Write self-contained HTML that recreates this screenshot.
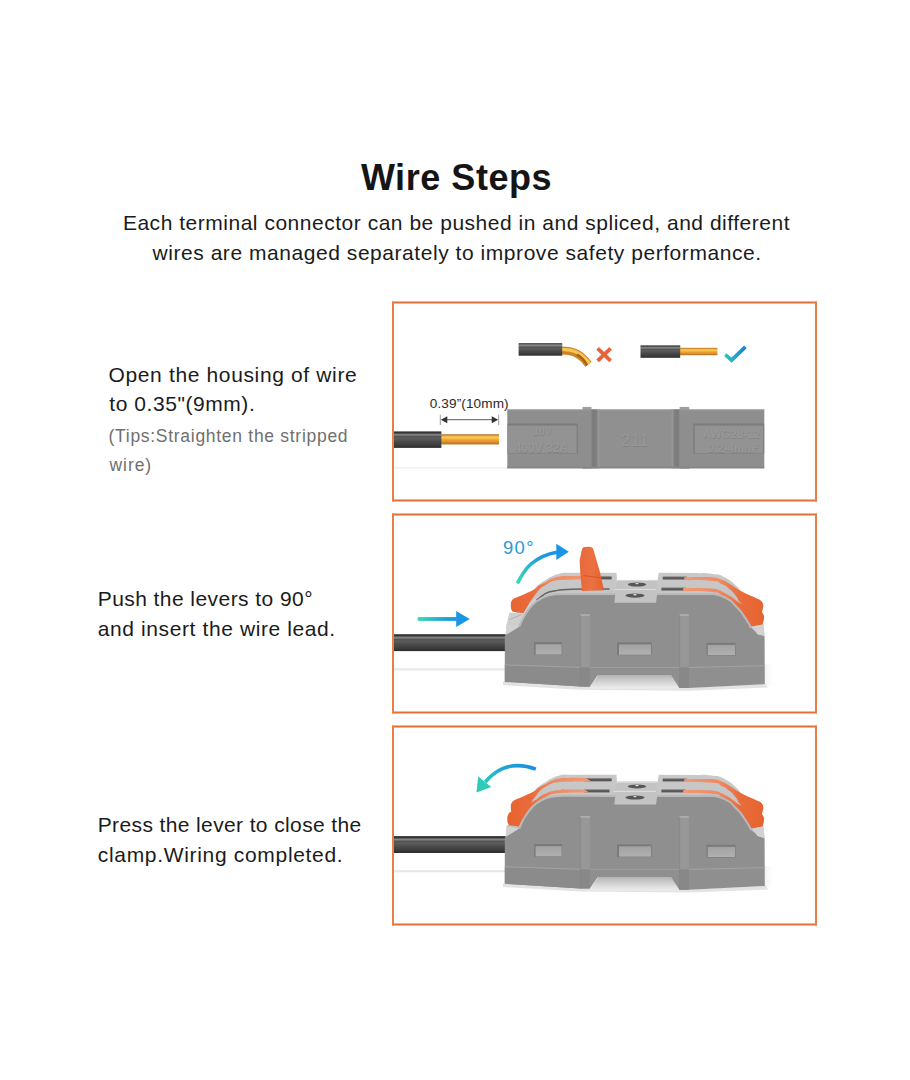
<!DOCTYPE html>
<html lang="en">
<head>
<meta charset="utf-8">
<title>Wire Steps</title>
<style>
*{margin:0;padding:0;box-sizing:border-box}
html,body{width:910px;height:1080px;background:#fff;overflow:hidden}
body{position:relative;font-family:"Liberation Sans",sans-serif;color:#1a1a1a}
.t{position:absolute;white-space:nowrap;line-height:1;font-weight:400}
.ttl{font-weight:700;color:#151515}
.sub,.step{color:#1b1b1b}
.tip{color:#6f6f6f}
.dim{color:#2a2a2a}
.deg{color:#2a9bd6}
.box{position:static}
svg.art{position:absolute;left:0;top:0;width:910px;height:1080px}
svg.art text{font-family:"Liberation Sans",sans-serif}
</style>
</head>
<body>
<svg class="art" viewBox="0 0 910 1080" width="910" height="1080">
<defs>
  <linearGradient id="wireg" x1="0" y1="0" x2="0" y2="1">
    <stop offset="0" stop-color="#303030"/>
    <stop offset="0.1" stop-color="#353535"/>
    <stop offset="0.16" stop-color="#727272"/>
    <stop offset="0.22" stop-color="#8c8c8c"/>
    <stop offset="0.29" stop-color="#525252"/>
    <stop offset="0.42" stop-color="#5c5c5c"/>
    <stop offset="0.62" stop-color="#4a4a4a"/>
    <stop offset="0.82" stop-color="#3d3d3d"/>
    <stop offset="1" stop-color="#2c2c2c"/>
  </linearGradient>
  <linearGradient id="copg" x1="0" y1="0" x2="0" y2="1">
    <stop offset="0" stop-color="#b8722f"/>
    <stop offset="0.12" stop-color="#dc9236"/>
    <stop offset="0.3" stop-color="#fbd45c"/>
    <stop offset="0.45" stop-color="#f4b23a"/>
    <stop offset="0.75" stop-color="#e0902e"/>
    <stop offset="0.9" stop-color="#c47a28"/>
    <stop offset="1" stop-color="#a8651f"/>
  </linearGradient>
  <linearGradient id="wing" x1="0" y1="0" x2="0" y2="1">
    <stop offset="0" stop-color="#a2a2a2"/>
    <stop offset="1" stop-color="#b0b0b0"/>
  </linearGradient>
  <linearGradient id="grvL" x1="0" y1="0" x2="1" y2="0">
    <stop offset="0" stop-color="#8c8c8c"/>
    <stop offset="0.25" stop-color="#7a7a7a"/>
    <stop offset="0.7" stop-color="#828282"/>
    <stop offset="0.9" stop-color="#9e9e9e"/>
    <stop offset="1" stop-color="#929292"/>
  </linearGradient>
  <linearGradient id="grvR" x1="1" y1="0" x2="0" y2="0">
    <stop offset="0" stop-color="#8c8c8c"/>
    <stop offset="0.25" stop-color="#7a7a7a"/>
    <stop offset="0.7" stop-color="#828282"/>
    <stop offset="0.9" stop-color="#9e9e9e"/>
    <stop offset="1" stop-color="#929292"/>
  </linearGradient>
  <filter id="emb" x="-5%" y="-20%" width="110%" height="150%">
    <feDropShadow dx="0.4" dy="0.8" stdDeviation="0.35" flood-color="#707070" flood-opacity="0.6"/>
  </filter>
  <linearGradient id="gline" x1="0" y1="0" x2="0" y2="1">
    <stop offset="0" stop-color="#dcdcdc" stop-opacity="0"/>
    <stop offset="0.4" stop-color="#e8e8e8"/>
    <stop offset="0.6" stop-color="#e8e8e8"/>
    <stop offset="1" stop-color="#dcdcdc" stop-opacity="0"/>
  </linearGradient>
  <linearGradient id="sideg" x1="0" y1="0" x2="1" y2="0">
    <stop offset="0" stop-color="#dedede"/>
    <stop offset="1" stop-color="#ffffff" stop-opacity="0"/>
  </linearGradient>
  <linearGradient id="slotg" x1="0" y1="0" x2="0" y2="1">
    <stop offset="0" stop-color="#8a8786"/>
    <stop offset="0.45" stop-color="#5c5857"/>
    <stop offset="1" stop-color="#55514f"/>
  </linearGradient>
  <linearGradient id="notchg" x1="0" y1="0" x2="0" y2="1">
    <stop offset="0" stop-color="#b6b6b6"/>
    <stop offset="0.6" stop-color="#d9d9d9"/>
    <stop offset="1" stop-color="#ededed"/>
  </linearGradient>
  <linearGradient id="org" gradientUnits="userSpaceOnUse" x1="507" y1="0" x2="590" y2="0">
    <stop offset="0" stop-color="#e5632f"/>
    <stop offset="0.3" stop-color="#ea6c3c"/>
    <stop offset="0.55" stop-color="#ef8a62"/>
    <stop offset="1" stop-color="#f09a78"/>
  </linearGradient>
  <linearGradient id="orgR" gradientUnits="userSpaceOnUse" x1="764" y1="0" x2="683" y2="0">
    <stop offset="0" stop-color="#e5632f"/>
    <stop offset="0.3" stop-color="#ea6c3c"/>
    <stop offset="0.55" stop-color="#ef8a62"/>
    <stop offset="1" stop-color="#f09a78"/>
  </linearGradient>
  <linearGradient id="topg" x1="0" y1="0" x2="0" y2="1">
    <stop offset="0" stop-color="#c9c9c9"/>
    <stop offset="1" stop-color="#bdbdbd"/>
  </linearGradient>
  <linearGradient id="shadg" x1="0" y1="0" x2="0" y2="1">
    <stop offset="0" stop-color="#d9d9d9"/>
    <stop offset="1" stop-color="#ffffff" stop-opacity="0"/>
  </linearGradient>
  <linearGradient id="blueg2" gradientUnits="userSpaceOnUse" x1="517" y1="584" x2="560" y2="552">
    <stop offset="0" stop-color="#3cdcb0"/>
    <stop offset="0.6" stop-color="#1ea0dc"/>
    <stop offset="1" stop-color="#1a8ee0"/>
  </linearGradient>
  <linearGradient id="blueg3" gradientUnits="userSpaceOnUse" x1="480" y1="786" x2="536" y2="768">
    <stop offset="0" stop-color="#2fcdb6"/>
    <stop offset="0.5" stop-color="#1ea4d8"/>
    <stop offset="1" stop-color="#1a8ee0"/>
  </linearGradient>
  <linearGradient id="chk" gradientUnits="userSpaceOnUse" x1="725" y1="0" x2="746" y2="0">
    <stop offset="0" stop-color="#2cc6bf"/>
    <stop offset="0.45" stop-color="#22a8cf"/>
    <stop offset="1" stop-color="#1a7ddc"/>
  </linearGradient>
  <linearGradient id="org2" x1="0" y1="0" x2="1" y2="0">
    <stop offset="0" stop-color="#e8693b"/>
    <stop offset="0.5" stop-color="#ec7142"/>
    <stop offset="1" stop-color="#e2622f"/>
  </linearGradient>
  <linearGradient id="blueg1" gradientUnits="userSpaceOnUse" x1="417" y1="0" x2="469" y2="0">
    <stop offset="0" stop-color="#3cdcb0"/>
    <stop offset="0.55" stop-color="#1ea0dc"/>
    <stop offset="1" stop-color="#1a8ee0"/>
  </linearGradient>
</defs>
<g id="frames" fill="none">
  <path d="M392 302.5H817M392 500.5H817M392 514.5H817M392 712.5H817M392 726.5H817M392 924.5H817" stroke="#e07038" stroke-width="1.9"/>
  <path d="M393 301.6V501.4M816 301.6V501.4M393 513.6V713.4M816 513.6V713.4M393 725.6V925.4M816 725.6V925.4" stroke="#ea7e46" stroke-width="2"/>
</g>
<g id="step1">
  <!-- faint ground line -->
  <rect x="394" y="467" width="113.5" height="1.6" fill="#f0f0f0"/>
  <!-- bent wire (wrong) -->
  <path d="M561.5 350.5 C572 350.5 580 353 588.4 364.3" stroke="#cf8428" stroke-width="8" fill="none"/>
  <path d="M561.5 349.4 C572.5 349.4 581.2 352.2 589.5 363.4" stroke="#f6c552" stroke-width="3.4" fill="none"/>
  <path d="M577 354.5 C582 357.5 585 361 587.2 365.2" stroke="#a5611c" stroke-width="2.2" fill="none"/>
  <rect x="518.6" y="343.2" width="43.6" height="12.5" fill="url(#wireg)"/>
  <rect x="518.6" y="344.3" width="43.6" height="1" fill="#9a9a9a" opacity="0.8"/>
  <path d="M597.6 348.3 L610.6 360.9 M610.6 348.3 L597.6 360.9" stroke="#e9623a" stroke-width="3.7" fill="none"/>
  <!-- straight wire (right) -->
  <rect x="680" y="347.8" width="37.4" height="7.4" fill="url(#copg)"/>
  <rect x="640.5" y="345.4" width="39.7" height="12.4" fill="url(#wireg)"/>
  <rect x="640.5" y="346.6" width="39.7" height="1" fill="#9a9a9a" opacity="0.6"/>
  <path d="M725.3 354.6 L731.6 360.2 L745.4 346.9" stroke="url(#chk)" stroke-width="3.7" fill="none"/>
  <!-- dimension -->
  <path d="M440.3 414.7 V425.1 M498.7 414.7 V425.1" stroke="#9a9a9a" stroke-width="1"/>
  <path d="M446 419.7 H493" stroke="#5a5a5a" stroke-width="1"/>
  <path d="M440.8 419.7 L447.3 416.2 L447.3 423.2 Z M498.2 419.7 L491.7 416.2 L491.7 423.2 Z" fill="#333"/>
  <!-- main wire -->
  <rect x="441" y="434.2" width="58" height="10.2" fill="url(#copg)"/>
  <rect x="394" y="431.4" width="47.4" height="16.5" fill="url(#wireg)"/>
  <!-- flat connector -->
  <rect x="582.5" y="406.9" width="9" height="4" fill="#a0a0a0"/>
  <rect x="679.6" y="406.9" width="9.6" height="4" fill="#a0a0a0"/>
  <rect x="582.5" y="466" width="9" height="3" fill="#b4b4b4"/>
  <rect x="679.6" y="466" width="9.6" height="3" fill="#b4b4b4"/>
  <rect x="507.3" y="409.5" width="257" height="58.8" fill="#8e8e8e"/>
  <rect x="599.4" y="410.2" width="72.1" height="57.4" fill="#909090"/>
  <rect x="507.3" y="409.5" width="257" height="1" fill="#999"/>
  <rect x="590.8" y="409.5" width="8.8" height="58.8" fill="url(#grvL)"/>
  <rect x="671.3" y="409.5" width="8.6" height="58.8" fill="url(#grvR)"/>
  <rect x="507.6" y="423.6" width="70.2" height="30" fill="#7c7c7c"/>
  <rect x="507.6" y="425.6" width="69" height="27.6" fill="#939393"/>
  <rect x="693.4" y="423.6" width="70.8" height="30" fill="#7c7c7c"/>
  <rect x="694.8" y="425.6" width="68.4" height="27.6" fill="#939393"/>
  <rect x="507.3" y="466.6" width="257" height="1.7" fill="#868686"/>
  <g fill="#989898" font-weight="700" text-anchor="middle" filter="url(#emb)">
    <text x="542.5" y="435.2" font-size="10">10V</text>
    <text x="541.5" y="452" font-size="12">400V 32A</text>
    <text x="635.5" y="445.8" font-size="16" fill="#989898" font-weight="400" letter-spacing="1">211</text>
    <text x="731.5" y="438.4" font-size="11.6">AWG28-12</text>
    <text x="733" y="452" font-size="11.6">0.2-4mm²</text>
  </g>
</g>
<g id="step2">
  <g transform="translate(0,-201.9)">
    
    <rect x="394" y="869.6" width="112" height="3.2" fill="url(#gline)"/>
    <rect x="764" y="866" width="12" height="21" fill="url(#sideg)" opacity="0.45"/>
    <path d="M503 883.5 L580 888 L590 888.4 L598 879 L672 879 L680 889.6 L689 889.6 L766 885.8 L768 889.5 L689 892.6 L580 891.6 L503 887 Z" fill="#e3e3e3"/>
    <path d="M598 877.5 L672 877.5 L681 890.5 L589 890.5 Z" fill="url(#notchg)"/>
    <rect x="394" y="836.1" width="112" height="16.9" fill="url(#wireg)"/>
    <path d="M506 837 L506.6 826.5 L535.5 789.4 C537.3 787.9 537.3 787.6 541.0 785.0 C544.7 782.4 542.8 783.8 546.5 781.5 C550.2 779.2 547.4 780.3 552.0 778.2 C556.6 776.1 554.9 776.5 560.2 775.3 C565.5 774.1 565.4 774.9 568.0 774.7 L616.5 774.7 L617 781.8 L657.6 781.8 L658.7 774.7 L698.0 775.0 C702.6 775.2 702.8 774.2 711.8 775.6 C720.8 777.0 716.3 774.8 725.0 779.3 C733.7 783.8 733.7 785.9 738.0 789.2 L763.4 826.5 L764.5 838 L700 810 L560 810 Z" fill="url(#topg)"/>
    <path d="M617 781.8 L657.6 781.8 L656 804.6 L614 804.6 Z" fill="#c3c3c3"/>
    <path d="M613.9 791.4 L655.9 791.4" stroke="#dcdcdc" stroke-width="1.2"/>
    <path d="M616 782.3 L658 782.3" stroke="#d8d8d8" stroke-width="1"/>
    <ellipse cx="637" cy="786.4" rx="9.2" ry="2" fill="#575757"/>
    <ellipse cx="635" cy="797.5" rx="9.6" ry="2.1" fill="#575757"/>
    <ellipse cx="637" cy="785.5" rx="1.7" ry="0.7" fill="#e8e8e8"/>
    <ellipse cx="635" cy="796.6" rx="1.7" ry="0.7" fill="#e8e8e8"/>
    <rect x="584" y="778.1" width="27.7" height="3.2" fill="url(#slotg)"/>
    <rect x="662.7" y="778.3" width="24" height="3.1" fill="url(#slotg)"/>
    <rect x="661.4" y="789.3" width="24" height="3.1" fill="url(#slotg)"/>
    <path d="M684.3 779.1 C688.9 779.1 705.4 778.6 711.8 779.1 C718.2 779.6 719.4 780.7 722.7 782.0 C726.0 783.3 728.9 785.4 731.5 787.0 C734.1 788.6 735.2 789.8 738.1 791.4 C741.0 793.0 745.4 795.2 749.1 796.9 C752.8 798.6 758.3 801.0 760.1 801.8 C762.5 803.5 763.6 806 763.2 809 L761.8 815 C756.9 812.9 754.3 812.3 747.0 808.6 C739.7 804.9 743.7 807.7 740.0 804.0 C736.3 800.3 739.5 802.0 735.9 797.6 C732.3 793.2 734.1 794.7 729.3 790.8 C724.5 786.9 727.4 788.6 721.6 785.9 C715.8 783.2 724.2 784.1 711.8 782.8 C699.4 781.5 693.5 782.3 684.3 782.0 Z" fill="url(#orgR)"/>
    <path d="M683.2 790.0 C688.0 790.1 705.2 789.9 711.8 790.5 C718.4 791.1 719.4 792.4 722.7 793.8 C726.0 795.2 728.9 797.3 731.5 799.0 C734.1 800.7 735.5 802.5 738.1 804.0 C740.7 805.5 743.0 806.2 747.0 807.9 C751.0 809.5 759.3 812.9 761.8 813.9 C763.6 816 764.4 818 764 820 C763.8 823 763.2 825 762.3 826.5 L751.9 828.5 C750.6 827.1 751.1 828.3 748.0 824.3 C744.9 820.3 746.5 821.9 742.5 816.6 C738.5 811.3 740.3 812.9 735.9 808.4 C731.5 803.9 734.1 806.7 729.3 803.0 C724.5 799.3 727.4 800.5 721.6 797.4 C715.8 794.3 724.6 795.3 711.8 793.8 C699.0 792.3 692.7 793.3 683.2 793.0 Z" fill="url(#orgR)"/>
    <path d="M510.8 808 C510.4 804.5 511.6 802 513.5 800.7 C519.9 797.8 524.8 796.1 532.7 792.1 C540.6 788.1 534.5 790.5 537.3 788.6 C540.1 786.7 537.9 788.2 541.0 786.5 C544.1 784.8 542.8 785.6 546.5 783.6 C550.2 781.6 547.5 782.3 552.0 780.5 C556.5 778.7 554.7 779.2 560.0 778.3 C565.3 777.4 559.4 778.0 568.0 777.9 C576.6 777.8 579.8 777.9 585.7 777.9 L591.0 781.2 C583.3 781.4 578.3 781.4 568.0 781.7 C557.7 782.0 565.3 781.4 560.0 782.0 C554.7 782.6 556.5 782.0 552.0 783.4 C547.5 784.8 550.2 784.1 546.5 786.3 C542.8 788.5 544.2 787.3 541.0 790.0 C537.8 792.7 540.4 790.2 537.0 794.5 C533.6 798.8 535.0 796.7 530.8 803.0 C526.6 809.3 527.1 809.5 524.5 813.5 C521.9 817.5 523.5 814.4 523.0 814.9 L512.8 813.6 C511.3 812 510.9 810.5 510.8 808 Z" fill="url(#org)"/>
    <path d="M506.6 826.5 L518.7 828.2 L516.5 832 L505.5 837.2 Z" fill="#d2d2d2"/>
    <path d="M751.3 828.7 L763.4 826.5 L764.6 838 L757.9 835.5 Z" fill="#d2d2d2"/>
    
    <path d="M506.6 826.5 L509.5 814.5 L523.5 815.2 L531 803.5 L540 797 L524 820 L518.7 829 Z" fill="#cfcfcf"/>
    <path d="M509.3 821.5 L521.5 816.5" stroke="#a9a9a9" stroke-width="0.8" fill="none"/>
    <path d="M536.5 802.0 C538.0 800.9 542.6 796.8 545.8 795.2 C549.0 793.6 552.8 793.2 555.7 792.6 C558.6 792.0 558.1 791.9 563.0 791.6 C567.9 791.3 577.2 791.1 585.0 791.0 C592.8 790.9 605.4 791.0 609.5 791.0" stroke="#66625f" stroke-width="1.5" fill="none"/>
    
    <path d="M504.8 883.8 L504.8 837.5 L519.3 828.6 C520.5 825.9 519.4 826.7 522.8 820.6 C526.2 814.5 525.0 816.0 529.4 810.3 C533.8 804.6 530.5 807.6 536.0 803.6 C541.5 799.6 539.2 800.7 545.8 798.2 C552.4 795.7 549.0 797.0 555.7 796.2 C562.4 795.4 562.6 795.9 566.0 795.8 L615.3 796 L614.3 804.6 L656 804.6 L657.2 796 L711.8 795.8 C716.2 797.0 716.9 795.3 725.0 799.4 C733.1 803.5 729.4 801.7 736.0 808.2 C742.6 814.7 739.6 811.7 744.7 819.0 C749.8 826.3 749.1 826.3 751.3 830.0 L757.9 836.1 L764.6 838.2 L764.8 886 L688.8 889.8 L679.4 889.8 L671.4 877.5 L597.5 877.5 L589.8 888.6 L580.2 888.4 Z" fill="#8f8f8f"/>
    <path d="M519.3 828.6 C519.9 827.3 521.1 823.7 522.8 820.6 C524.5 817.5 527.2 813.1 529.4 810.3 C531.6 807.5 533.3 805.6 536.0 803.6 C538.7 801.6 542.5 799.4 545.8 798.2 C549.1 797.0 552.3 796.6 555.7 796.2 C559.1 795.8 564.3 795.9 566.0 795.8 L615.3 796" stroke="#b9b9b9" stroke-width="2" fill="none"/>
    <path d="M657.2 796 L711.8 795.8 C716.2 797.0 716.9 795.3 725.0 799.4 C733.1 803.5 729.4 801.7 736.0 808.2 C742.6 814.7 739.6 811.7 744.7 819.0 C749.8 826.3 749.1 826.3 751.3 830.0" stroke="#b9b9b9" stroke-width="2" fill="none"/>
    <path d="M504.8 867 L580.2 869.5 L580.2 888.4 L504.8 883.8 Z" fill="#8b8b8b"/>
    <path d="M504.8 866.8 L580.2 869.3" stroke="#a3a3a3" stroke-width="1" fill="none"/>
    <path d="M589.8 869.4 L679.4 869.4" stroke="#9d9d9d" stroke-width="1" fill="none"/>
    <path d="M688.8 869.4 L764.8 867.6" stroke="#a3a3a3" stroke-width="1" fill="none"/>
    <path d="M580.2 816.6 L589.8 816.6 L589.8 869.4 L580.2 869.4 Z" fill="#979797"/>
    <path d="M580.2 869.4 L589.8 869.4 L589.8 888.6 L580.2 888.4 Z" fill="#888888"/>
    <path d="M580.2 816.9 L589.8 816.9" stroke="#b9b9b9" stroke-width="1.2"/>
    <path d="M580.4 817 L580.4 888.4" stroke="#868686" stroke-width="0.8"/>
    <path d="M679.4 816.6 L688.8 816.6 L688.8 869.4 L679.4 869.4 Z" fill="#979797"/>
    <path d="M679.4 869.4 L688.8 869.4 L688.8 889.8 L679.4 889.8 Z" fill="#888888"/>
    <path d="M679.4 816.9 L688.8 816.9" stroke="#b9b9b9" stroke-width="1.2"/>
    <path d="M679.6 817 L679.6 889.8" stroke="#868686" stroke-width="0.8"/>
    <rect x="534.1" y="844.1" width="28" height="12.8" fill="#797979"/>
    <rect x="535.6" y="846.1" width="26" height="10.3" fill="url(#wing)"/>
    <rect x="617.1" y="844.3" width="34.6" height="12.8" fill="#797979"/>
    <rect x="619" y="846.3" width="32" height="10.3" fill="url(#wing)"/>
    <rect x="706.6" y="844.8" width="28.9" height="12.7" fill="#797979"/>
    <rect x="707.8" y="846.8" width="27.2" height="10.2" fill="url(#wing)"/>
  </g>
  <!-- raised lever -->
  <path d="M581.9 549.5 C582.3 547.3 584 546.7 587.5 546.7 C591 546.7 592.6 547.3 593.2 549 L596.2 559.2 L600 572.3 L604 590.2 L582 591 L580.4 574.6 L579.6 560.8 Z" fill="url(#org2)"/>
  <path d="M583.6 575.6 L601.3 577.9" stroke="#d2562a" stroke-width="0.9" fill="none"/>
  <!-- arrows -->
  <rect x="417.7" y="617.1" width="39" height="3.8" fill="url(#blueg1)"/>
  <path d="M456.2 610.9 L469.7 618.9 L456.2 627.1 Z" fill="#1a94e6"/>
  <path d="M517.4 583.4 C522 574 526 568.5 531 564 C538 558 546 554 557 552.2" stroke="url(#blueg2)" stroke-width="3.6" fill="none"/>
  <path d="M556.3 543.8 L568.8 551.8 L556.3 560.1 Z" fill="#1a94e6"/>
</g>
<g id="step3">
<g class="connector">
    <rect x="394" y="869.6" width="112" height="3.2" fill="url(#gline)"/>
    <rect x="764" y="866" width="12" height="21" fill="url(#sideg)" opacity="0.45"/>
    <path d="M503 883.5 L580 888 L590 888.4 L598 879 L672 879 L680 889.6 L689 889.6 L766 885.8 L768 889.5 L689 892.6 L580 891.6 L503 887 Z" fill="#e3e3e3"/>
    <path d="M598 877.5 L672 877.5 L681 890.5 L589 890.5 Z" fill="url(#notchg)"/>
    <rect x="394" y="836.1" width="112" height="16.9" fill="url(#wireg)"/>
    <path d="M506 837 L506.6 826.5 L535.5 789.4 C537.3 787.9 537.3 787.6 541.0 785.0 C544.7 782.4 542.8 783.8 546.5 781.5 C550.2 779.2 547.4 780.3 552.0 778.2 C556.6 776.1 554.9 776.5 560.2 775.3 C565.5 774.1 565.4 774.9 568.0 774.7 L616.5 774.7 L617 781.8 L657.6 781.8 L658.7 774.7 L698.0 775.0 C702.6 775.2 702.8 774.2 711.8 775.6 C720.8 777.0 716.3 774.8 725.0 779.3 C733.7 783.8 733.7 785.9 738.0 789.2 L763.4 826.5 L764.5 838 L700 810 L560 810 Z" fill="url(#topg)"/>
    <path d="M617 781.8 L657.6 781.8 L656 804.6 L614 804.6 Z" fill="#c3c3c3"/>
    <path d="M613.9 791.4 L655.9 791.4" stroke="#dcdcdc" stroke-width="1.2"/>
    <path d="M616 782.3 L658 782.3" stroke="#d8d8d8" stroke-width="1"/>
    <ellipse cx="637" cy="786.4" rx="9.2" ry="2" fill="#575757"/>
    <ellipse cx="635" cy="797.5" rx="9.6" ry="2.1" fill="#575757"/>
    <ellipse cx="637" cy="785.5" rx="1.7" ry="0.7" fill="#e8e8e8"/>
    <ellipse cx="635" cy="796.6" rx="1.7" ry="0.7" fill="#e8e8e8"/>
    <rect x="584" y="778.1" width="27.7" height="3.2" fill="url(#slotg)"/>
    <rect x="662.7" y="778.3" width="24" height="3.1" fill="url(#slotg)"/>
    <rect x="661.4" y="789.3" width="24" height="3.1" fill="url(#slotg)"/>
    <path d="M684.3 779.1 C688.9 779.1 705.4 778.6 711.8 779.1 C718.2 779.6 719.4 780.7 722.7 782.0 C726.0 783.3 728.9 785.4 731.5 787.0 C734.1 788.6 735.2 789.8 738.1 791.4 C741.0 793.0 745.4 795.2 749.1 796.9 C752.8 798.6 758.3 801.0 760.1 801.8 C762.5 803.5 763.6 806 763.2 809 L761.8 815 C756.9 812.9 754.3 812.3 747.0 808.6 C739.7 804.9 743.7 807.7 740.0 804.0 C736.3 800.3 739.5 802.0 735.9 797.6 C732.3 793.2 734.1 794.7 729.3 790.8 C724.5 786.9 727.4 788.6 721.6 785.9 C715.8 783.2 724.2 784.1 711.8 782.8 C699.4 781.5 693.5 782.3 684.3 782.0 Z" fill="url(#orgR)"/>
    <path d="M683.2 790.0 C688.0 790.1 705.2 789.9 711.8 790.5 C718.4 791.1 719.4 792.4 722.7 793.8 C726.0 795.2 728.9 797.3 731.5 799.0 C734.1 800.7 735.5 802.5 738.1 804.0 C740.7 805.5 743.0 806.2 747.0 807.9 C751.0 809.5 759.3 812.9 761.8 813.9 C763.6 816 764.4 818 764 820 C763.8 823 763.2 825 762.3 826.5 L751.9 828.5 C750.6 827.1 751.1 828.3 748.0 824.3 C744.9 820.3 746.5 821.9 742.5 816.6 C738.5 811.3 740.3 812.9 735.9 808.4 C731.5 803.9 734.1 806.7 729.3 803.0 C724.5 799.3 727.4 800.5 721.6 797.4 C715.8 794.3 724.6 795.3 711.8 793.8 C699.0 792.3 692.7 793.3 683.2 793.0 Z" fill="url(#orgR)"/>
    <path d="M510.8 808 C510.4 804.5 511.6 802 513.5 800.7 C519.9 797.8 524.8 796.1 532.7 792.1 C540.6 788.1 534.5 790.5 537.3 788.6 C540.1 786.7 537.9 788.2 541.0 786.5 C544.1 784.8 542.8 785.6 546.5 783.6 C550.2 781.6 547.5 782.3 552.0 780.5 C556.5 778.7 554.7 779.2 560.0 778.3 C565.3 777.4 559.4 778.0 568.0 777.9 C576.6 777.8 579.8 777.9 585.7 777.9 L591.0 781.2 C583.3 781.4 578.3 781.4 568.0 781.7 C557.7 782.0 565.3 781.4 560.0 782.0 C554.7 782.6 556.5 782.0 552.0 783.4 C547.5 784.8 550.2 784.1 546.5 786.3 C542.8 788.5 544.2 787.3 541.0 790.0 C537.8 792.7 540.4 790.2 537.0 794.5 C533.6 798.8 535.0 796.7 530.8 803.0 C526.6 809.3 527.1 809.5 524.5 813.5 C521.9 817.5 523.5 814.4 523.0 814.9 L512.8 813.6 C511.3 812 510.9 810.5 510.8 808 Z" fill="url(#org)"/>
    <path d="M506.6 826.5 L518.7 828.2 L516.5 832 L505.5 837.2 Z" fill="#d2d2d2"/>
    <path d="M751.3 828.7 L763.4 826.5 L764.6 838 L757.9 835.5 Z" fill="#d2d2d2"/>
    <rect x="584" y="789.3" width="25.5" height="3.1" fill="url(#slotg)"/>
    <path d="M507.3 820.5 C507 816.5 508 813.7 510.3 811.9 C517.5 808.6 521.8 807.3 532.0 802.0 C542.2 796.7 536.2 798.9 541.0 796.0 C545.8 793.1 542.8 794.9 546.5 793.3 C550.2 791.7 547.5 792.4 552.0 791.3 C556.5 790.2 554.7 790.6 560.0 790.0 C565.3 789.4 559.8 789.7 568.0 789.5 C576.2 789.3 579.1 789.4 584.6 789.4 L589.0 792.6 C582.0 792.6 577.7 792.6 568.0 792.7 C558.3 792.8 565.3 792.5 560.0 793.0 C554.7 793.5 556.5 793.1 552.0 794.3 C547.5 795.5 550.2 794.8 546.5 796.5 C542.8 798.2 544.5 797.3 541.0 799.5 C537.5 801.7 539.9 799.7 536.0 803.0 C532.1 806.3 533.8 803.7 529.4 809.3 C525.0 814.9 526.3 814.0 522.8 819.8 C519.3 825.6 520.1 824.3 518.8 826.6 L509.6 825.3 C508 824 507.4 822.5 507.3 820.5 Z" fill="url(#org)"/>
    <path d="M504.8 883.8 L504.8 837.5 L519.3 828.6 C520.5 825.9 519.4 826.7 522.8 820.6 C526.2 814.5 525.0 816.0 529.4 810.3 C533.8 804.6 530.5 807.6 536.0 803.6 C541.5 799.6 539.2 800.7 545.8 798.2 C552.4 795.7 549.0 797.0 555.7 796.2 C562.4 795.4 562.6 795.9 566.0 795.8 L615.3 796 L614.3 804.6 L656 804.6 L657.2 796 L711.8 795.8 C716.2 797.0 716.9 795.3 725.0 799.4 C733.1 803.5 729.4 801.7 736.0 808.2 C742.6 814.7 739.6 811.7 744.7 819.0 C749.8 826.3 749.1 826.3 751.3 830.0 L757.9 836.1 L764.6 838.2 L764.8 886 L688.8 889.8 L679.4 889.8 L671.4 877.5 L597.5 877.5 L589.8 888.6 L580.2 888.4 Z" fill="#8f8f8f"/>
    <path d="M519.3 828.6 C519.9 827.3 521.1 823.7 522.8 820.6 C524.5 817.5 527.2 813.1 529.4 810.3 C531.6 807.5 533.3 805.6 536.0 803.6 C538.7 801.6 542.5 799.4 545.8 798.2 C549.1 797.0 552.3 796.6 555.7 796.2 C559.1 795.8 564.3 795.9 566.0 795.8 L615.3 796" stroke="#b9b9b9" stroke-width="2" fill="none"/>
    <path d="M657.2 796 L711.8 795.8 C716.2 797.0 716.9 795.3 725.0 799.4 C733.1 803.5 729.4 801.7 736.0 808.2 C742.6 814.7 739.6 811.7 744.7 819.0 C749.8 826.3 749.1 826.3 751.3 830.0" stroke="#b9b9b9" stroke-width="2" fill="none"/>
    <path d="M504.8 867 L580.2 869.5 L580.2 888.4 L504.8 883.8 Z" fill="#8b8b8b"/>
    <path d="M504.8 866.8 L580.2 869.3" stroke="#a3a3a3" stroke-width="1" fill="none"/>
    <path d="M589.8 869.4 L679.4 869.4" stroke="#9d9d9d" stroke-width="1" fill="none"/>
    <path d="M688.8 869.4 L764.8 867.6" stroke="#a3a3a3" stroke-width="1" fill="none"/>
    <path d="M580.2 816.6 L589.8 816.6 L589.8 869.4 L580.2 869.4 Z" fill="#979797"/>
    <path d="M580.2 869.4 L589.8 869.4 L589.8 888.6 L580.2 888.4 Z" fill="#888888"/>
    <path d="M580.2 816.9 L589.8 816.9" stroke="#b9b9b9" stroke-width="1.2"/>
    <path d="M580.4 817 L580.4 888.4" stroke="#868686" stroke-width="0.8"/>
    <path d="M679.4 816.6 L688.8 816.6 L688.8 869.4 L679.4 869.4 Z" fill="#979797"/>
    <path d="M679.4 869.4 L688.8 869.4 L688.8 889.8 L679.4 889.8 Z" fill="#888888"/>
    <path d="M679.4 816.9 L688.8 816.9" stroke="#b9b9b9" stroke-width="1.2"/>
    <path d="M679.6 817 L679.6 889.8" stroke="#868686" stroke-width="0.8"/>
    <rect x="534.1" y="844.1" width="28" height="12.8" fill="#797979"/>
    <rect x="535.6" y="846.1" width="26" height="10.3" fill="url(#wing)"/>
    <rect x="617.1" y="844.3" width="34.6" height="12.8" fill="#797979"/>
    <rect x="619" y="846.3" width="32" height="10.3" fill="url(#wing)"/>
    <rect x="706.6" y="844.8" width="28.9" height="12.7" fill="#797979"/>
    <rect x="707.8" y="846.8" width="27.2" height="10.2" fill="url(#wing)"/>
</g>
  <path d="M535.8 769.1 C524 764.8 512 764.6 502.5 768.6 C495.5 771.8 490 776.3 485.3 782" stroke="url(#blueg3)" stroke-width="3.6" fill="none"/>
  <path d="M478.1 776.4 L491.3 786.9 L476.5 792.4 Z" fill="#2fcbb8"/>
</g>
</svg>
<main>
<header>
<h1 class="t ttl" style="left:360.9px;top:160.4px;font-size:36px;letter-spacing:0.55px">Wire Steps</h1>
<p class="t sub" style="left:122.9px;top:212.1px;font-size:21px;letter-spacing:0.52px">Each terminal connector can be pushed in and spliced, and different</p>
<p class="t sub" style="left:152.5px;top:241.8px;font-size:21px;letter-spacing:0.55px">wires are managed separately to improve safety performance.</p>
</header>
<section class="row">
<p class="t step" style="left:108.5px;top:364.3px;font-size:21px;letter-spacing:0.64px">Open the housing of wire</p>
<p class="t step" style="left:109.3px;top:393.3px;font-size:21px;letter-spacing:0.56px">to 0.35"(9mm).</p>
<p class="t tip" style="left:108.5px;top:427.9px;font-size:17.5px;letter-spacing:0.71px">(Tips:Straighten the stripped</p>
<p class="t tip" style="left:109.5px;top:457.3px;font-size:17.5px;letter-spacing:0.94px">wire)</p>
<div class="box"><p class="t dim" style="left:429.8px;top:396.8px;font-size:13.6px;letter-spacing:0.1px">0.39”(10mm)</p></div>
</section>
<section class="row">
<p class="t step" style="left:97.7px;top:588.0px;font-size:21px;letter-spacing:0.44px">Push the levers to 90°</p>
<p class="t step" style="left:97.8px;top:617.6px;font-size:21px;letter-spacing:0.6px">and insert the wire lead.</p>
<div class="box"><p class="t deg" style="left:502.9px;top:539.4px;font-size:18.4px;letter-spacing:1.5px">90°</p></div>
</section>
<section class="row">
<p class="t step" style="left:97.7px;top:813.9px;font-size:21px;letter-spacing:0.38px">Press the lever to close the</p>
<p class="t step" style="left:97.8px;top:843.6px;font-size:21px;letter-spacing:0.68px">clamp.Wiring completed.</p>
<div class="box"></div>
</section>
</main>
</body>
</html>
